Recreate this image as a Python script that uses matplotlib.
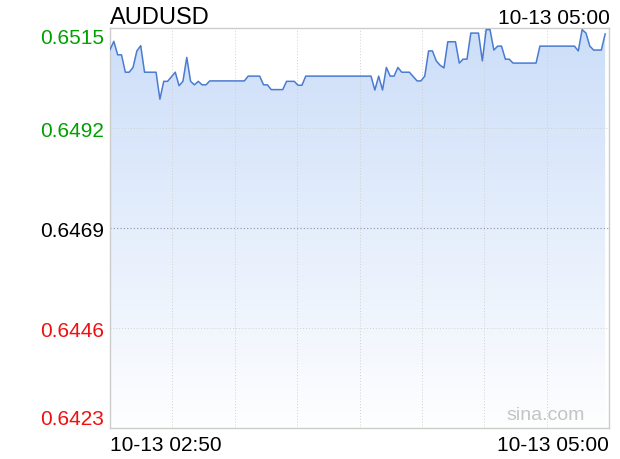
import numpy as np
import matplotlib
matplotlib.use("Agg")
import matplotlib.pyplot as plt
from matplotlib.patches import Polygon

plt.rcParams['font.family'] = ['Liberation Sans', 'DejaVu Sans']

title = "AUDUSD"
time_start_label = "10-13 02:50"
time_end_label = "10-13 05:00"
n_minutes = 130

# vertex minute index and price
minutes = [0, 1, 2, 3, 4, 5, 6, 7, 8, 9, 12, 13, 14, 15, 17, 18, 19, 20, 21, 22,
           23, 24, 25, 26, 35, 36, 39, 40, 41, 42, 45, 46, 48, 49, 50, 51, 68, 69,
           70, 71, 72, 73, 74, 75, 76, 78, 80, 81, 82, 83, 84, 85, 86, 87, 88, 90,
           91, 92, 93, 94, 96, 97, 98, 99, 100, 101, 102, 103, 104, 105, 111, 112,
           121, 122, 123, 124, 125, 126, 128, 129]
prices = [0.65101, 0.65120, 0.65089, 0.65089, 0.65049, 0.65049, 0.65060, 0.65098,
          0.65110, 0.65049, 0.65049, 0.64987, 0.65028, 0.65028, 0.65049, 0.65018,
          0.65028, 0.65083, 0.65028, 0.65020, 0.65028, 0.65020, 0.65020, 0.65029,
          0.65029, 0.65040, 0.65040, 0.65020, 0.65020, 0.65009, 0.65009, 0.65028,
          0.65028, 0.65019, 0.65019, 0.65040, 0.65040, 0.65008, 0.65040, 0.65008,
          0.65060, 0.65040, 0.65040, 0.65060, 0.65049, 0.65049, 0.65029, 0.65029,
          0.65040, 0.65098, 0.65098, 0.65075, 0.65065, 0.65059, 0.65119, 0.65119,
          0.65070, 0.65079, 0.65079, 0.65139, 0.65139, 0.65075, 0.65147, 0.65147,
          0.65100, 0.65109, 0.65109, 0.65079, 0.65079, 0.65070, 0.65070, 0.65109,
          0.65109, 0.65098, 0.65147, 0.65139, 0.65109, 0.65100, 0.65100, 0.65137]

y_ticks = [0.6515, 0.6492, 0.6469, 0.6446, 0.6423]
y_tick_labels = ["0.6515", "0.6492", "0.6469", "0.6446", "0.6423"]
y_tick_colors = ["#00a000", "#00a000", "#000000", "#f01010", "#f01010"]

fig = plt.figure(figsize=(6.2, 4.6), dpi=100)
ax = fig.add_axes([110/620, 1 - 429.3/460, 499/620, 400/460])

ymin, ymax = 0.6423, 0.6515
ax.set_xlim(0, n_minutes)
ax.set_ylim(ymin, ymax)

x = np.array(minutes, dtype=float)
y = np.array(prices)

# gradient fill
verts = [(x[0], ymin)] + list(zip(x, y)) + [(x[-1], ymin)]
poly = Polygon(verts, closed=True, facecolor='none', edgecolor='none')
ax.add_patch(poly)
top_c = np.array([0.80, 0.87, 0.975])
bot_c = np.array([0.995, 0.997, 1.0])
t = np.linspace(0, 1, 256)[:, None]
grad = top_c[None, :] * (1 - t) + bot_c[None, :] * t
grad = grad[:, None, :]
im = ax.imshow(grad, extent=[0, n_minutes, ymin, y.max()], aspect='auto',
               origin='upper', zorder=1, interpolation='bilinear')
im.set_clip_path(poly)

ax.plot(x, y, color='#4a7bd0', lw=1.1, zorder=3)

# grid
for k in range(1, 8):
    ax.axvline(n_minutes * k / 8, color='#d0d0d0', lw=0.7, ls=(0, (1, 2)), zorder=2)
for v in [0.6492, 0.6446]:
    ax.axhline(v, color='#d0d0d0', lw=0.7, ls=(0, (1, 2)), zorder=2)
ax.axhline(0.6469, color='#9090aa', lw=0.8, ls=(0, (1, 2)), zorder=2)

for s in ax.spines.values():
    s.set_color('#cccccc')
    s.set_linewidth(1.0)

ax.set_yticks(y_ticks)
ax.set_yticklabels(y_tick_labels, fontsize=15)
ax.tick_params(axis='y', length=0, pad=4)
for lbl, c in zip(ax.get_yticklabels(), y_tick_colors):
    lbl.set_color(c)
ylbls = ax.get_yticklabels()
ylbls[0].set_va('top')
ylbls[-1].set_va('bottom')

ax.set_xticks([0, n_minutes])
ax.set_xticklabels([time_start_label, time_end_label], fontsize=15)
ax.tick_params(axis='x', length=0, pad=5)
xl = ax.get_xticklabels()
xl[0].set_ha('left')
xl[1].set_ha('right')

fig.text(110/620, 1 - 24/460, title, fontsize=17, ha='left', va='baseline')
fig.text(610/620, 1 - 24/460, time_end_label, fontsize=15, ha='right', va='baseline')
fig.text(585/620, 1 - 420/460, "sina.com", fontsize=14, ha='right', va='baseline',
         color='#c4c4c4')

fig.savefig("out.png", dpi=100)
